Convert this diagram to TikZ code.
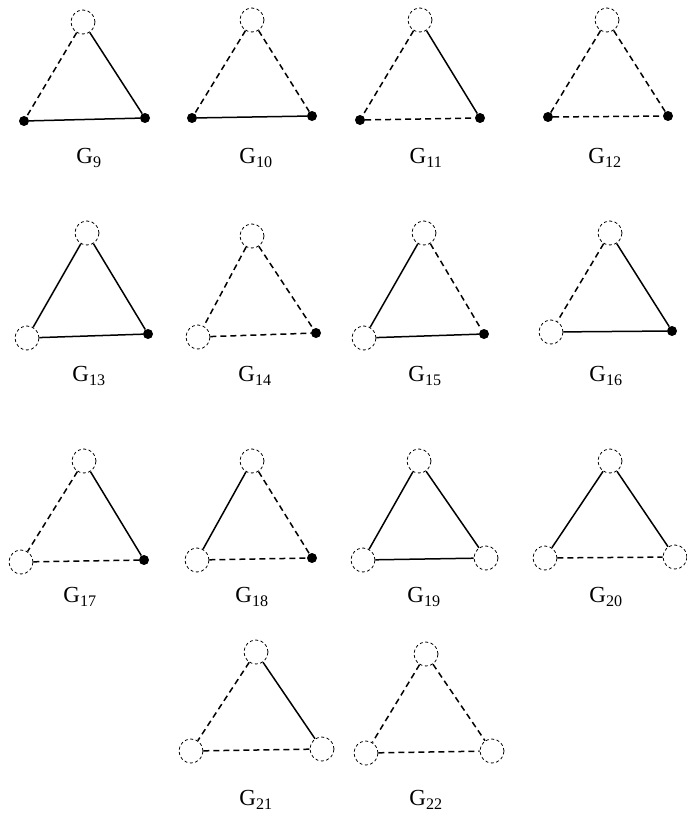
\documentclass[tikz,border=0pt]{standalone}
\usepackage{fontspec}
\setmainfont{Liberation Serif}
\usepackage{tikz}
\tikzstyle{openv} = [circle, draw, line width=0.8pt, dash pattern=on 3pt off 2.5pt,
  minimum size=24pt, inner sep=0pt]
\tikzstyle{dotv} = [circle, fill=black, minimum size=10pt, inner sep=0pt]
\tikzstyle{link} = [line width=1.5pt]
\tikzstyle{dlink} = [line width=1.5pt, dash pattern=on 6pt off 4pt]
\tikzstyle{glabel} = [font=\fontsize{23}{25}\selectfont]

\begin{document}
\begin{tikzpicture}[x=1pt, y=-1pt]
  \useasboundingbox (0,0) rectangle (687,816);

  % row 1
  \node[openv] (g9t) at (83,22) {};
  \node[dotv] (g9l) at (24,121) {};
  \node[dotv] (g9r) at (145,118) {};
  \node[glabel] (g9lab) at (89,158) {G\textsubscript{9}};
  \draw[dlink] (g9t) -- (g9l);
  \draw[link] (g9t) -- (g9r);
  \draw[link] (g9l) -- (g9r);

  \node[openv] (g10t) at (252,20) {};
  \node[dotv] (g10l) at (192,118) {};
  \node[dotv] (g10r) at (312,116) {};
  \node[glabel] (g10lab) at (256,158) {G\textsubscript{10}};
  \draw[dlink] (g10t) -- (g10l);
  \draw[dlink] (g10t) -- (g10r);
  \draw[link] (g10l) -- (g10r);

  \node[openv] (g11t) at (420,20) {};
  \node[dotv] (g11l) at (360,120) {};
  \node[dotv] (g11r) at (480,118) {};
  \node[glabel] (g11lab) at (426,158) {G\textsubscript{11}};
  \draw[dlink] (g11t) -- (g11l);
  \draw[link] (g11t) -- (g11r);
  \draw[dlink] (g11l) -- (g11r);

  \node[openv] (g12t) at (607,20) {};
  \node[dotv] (g12l) at (548,117) {};
  \node[dotv] (g12r) at (668,116) {};
  \node[glabel] (g12lab) at (605,158) {G\textsubscript{12}};
  \draw[dlink] (g12t) -- (g12l);
  \draw[dlink] (g12t) -- (g12r);
  \draw[dlink] (g12l) -- (g12r);

  % row 2
  \node[openv] (g13t) at (87,233) {};
  \node[openv] (g13l) at (27,338) {};
  \node[dotv] (g13r) at (148,334) {};
  \node[glabel] (g13lab) at (89,376) {G\textsubscript{13}};
  \draw[link] (g13t) -- (g13l);
  \draw[link] (g13t) -- (g13r);
  \draw[link] (g13l) -- (g13r);

  \node[openv] (g14t) at (252,236) {};
  \node[openv] (g14l) at (198,337) {};
  \node[dotv] (g14r) at (316,333) {};
  \node[glabel] (g14lab) at (255,376) {G\textsubscript{14}};
  \draw[dlink] (g14t) -- (g14l);
  \draw[dlink] (g14t) -- (g14r);
  \draw[dlink] (g14l) -- (g14r);

  \node[openv] (g15t) at (424,233) {};
  \node[openv] (g15l) at (364,338) {};
  \node[dotv] (g15r) at (484,334) {};
  \node[glabel] (g15lab) at (425,376) {G\textsubscript{15}};
  \draw[link] (g15t) -- (g15l);
  \draw[dlink] (g15t) -- (g15r);
  \draw[link] (g15l) -- (g15r);

  \node[openv] (g16t) at (610,233) {};
  \node[openv] (g16l) at (551,332) {};
  \node[dotv] (g16r) at (672,331) {};
  \node[glabel] (g16lab) at (606,376) {G\textsubscript{16}};
  \draw[dlink] (g16t) -- (g16l);
  \draw[link] (g16t) -- (g16r);
  \draw[link] (g16l) -- (g16r);

  % row 3
  \node[openv] (g17t) at (84,461) {};
  \node[openv] (g17l) at (21,562) {};
  \node[dotv] (g17r) at (144,560) {};
  \node[glabel] (g17lab) at (80,597) {G\textsubscript{17}};
  \draw[dlink] (g17t) -- (g17l);
  \draw[link] (g17t) -- (g17r);
  \draw[dlink] (g17l) -- (g17r);

  \node[openv] (g18t) at (252,461) {};
  \node[openv] (g18l) at (197,560) {};
  \node[dotv] (g18r) at (312,558) {};
  \node[glabel] (g18lab) at (252,597) {G\textsubscript{18}};
  \draw[link] (g18t) -- (g18l);
  \draw[dlink] (g18t) -- (g18r);
  \draw[dlink] (g18l) -- (g18r);

  \node[openv] (g19t) at (419,461) {};
  \node[openv] (g19l) at (363,560) {};
  \node[openv] (g19r) at (486,558) {};
  \node[glabel] (g19lab) at (424,597) {G\textsubscript{19}};
  \draw[link] (g19t) -- (g19l);
  \draw[link] (g19t) -- (g19r);
  \draw[link] (g19l) -- (g19r);

  \node[openv] (g20t) at (610,461) {};
  \node[openv] (g20l) at (545,558) {};
  \node[openv] (g20r) at (675,557) {};
  \node[glabel] (g20lab) at (606,597) {G\textsubscript{20}};
  \draw[link] (g20t) -- (g20l);
  \draw[link] (g20t) -- (g20r);
  \draw[dlink] (g20l) -- (g20r);

  % row 4
  \node[openv] (g21t) at (256,652) {};
  \node[openv] (g21l) at (191,751) {};
  \node[openv] (g21r) at (322,749) {};
  \node[glabel] (g21lab) at (256,800) {G\textsubscript{21}};
  \draw[dlink] (g21t) -- (g21l);
  \draw[link] (g21t) -- (g21r);
  \draw[dlink] (g21l) -- (g21r);

  \node[openv] (g22t) at (426,654) {};
  \node[openv] (g22l) at (366,753) {};
  \node[openv] (g22r) at (492,751) {};
  \node[glabel] (g22lab) at (426,800) {G\textsubscript{22}};
  \draw[dlink] (g22t) -- (g22l);
  \draw[dlink] (g22t) -- (g22r);
  \draw[dlink] (g22l) -- (g22r);

\end{tikzpicture}
\end{document}
